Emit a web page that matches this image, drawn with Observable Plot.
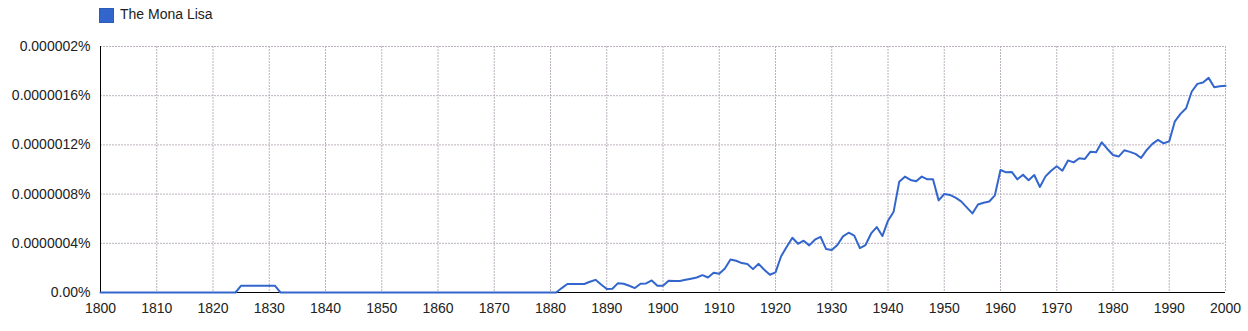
<!DOCTYPE html>
<html>
<head>
<meta charset="utf-8">
<script src="https://cdn.jsdelivr.net/npm/d3@7"></script>
<script src="https://cdn.jsdelivr.net/npm/@observablehq/plot@0.6"></script>
<style>
  html, body { margin: 0; padding: 0; background: #fff; }
  body { width: 1248px; height: 331px; overflow: hidden; font-family: "Liberation Sans", Arial, sans-serif; }
  #legend { position: relative; height: 30px; }
  #legend .swatch { position: absolute; left: 99px; top: 8px; width: 13px; height: 13px; background: #3366cc; border: 1px solid #2d5bb8; }
  #legend .label { position: absolute; left: 120px; top: 6px; font-size: 14px; line-height: 17px; color: #222; }
  #chart svg { display: block; }
</style>
</head>
<body>
<div id="legend"><span class="swatch"></span><span class="label">The Mona Lisa</span></div>
<div id="chart"></div>
<script>
// Series name
const seriesName = "The Mona Lisa";

// Yearly frequency, in units of 0.0000001 %, 1800–2000
const values = [
  // 1800s
  0, 0, 0, 0, 0, 0, 0, 0, 0, 0,
  // 1810s
  0, 0, 0, 0, 0, 0, 0, 0, 0, 0,
  // 1820s
  0, 0, 0, 0, 0, 0.55, 0.55, 0.55, 0.55, 0.55,
  // 1830s
  0.55, 0.55, 0, 0, 0, 0, 0, 0, 0, 0,
  // 1840s
  0, 0, 0, 0, 0, 0, 0, 0, 0, 0,
  // 1850s
  0, 0, 0, 0, 0, 0, 0, 0, 0, 0,
  // 1860s
  0, 0, 0, 0, 0, 0, 0, 0, 0, 0,
  // 1870s
  0, 0, 0, 0, 0, 0, 0, 0, 0, 0,
  // 1880s
  0, 0, 0.36, 0.69, 0.69, 0.69, 0.69, 0.87, 1.03, 0.65,
  // 1890s
  0.29, 0.3, 0.76, 0.71, 0.55, 0.36, 0.71, 0.74, 0.98, 0.55,
  // 1900s
  0.54, 0.95, 0.93, 0.93, 1.03, 1.12, 1.22, 1.41, 1.22, 1.6,
  // 1910s
  1.52, 1.95, 2.69, 2.58, 2.39, 2.31, 1.9, 2.33, 1.85, 1.44,
  // 1920s
  1.64, 2.95, 3.72, 4.45, 3.96, 4.21, 3.83, 4.29, 4.53, 3.53,
  // 1930s
  3.45, 3.86, 4.56, 4.86, 4.62, 3.61, 3.86, 4.8, 5.32, 4.59,
  // 1940s
  5.84, 6.57, 9.01, 9.42, 9.15, 9.04, 9.42, 9.2, 9.2, 7.49,
  // 1950s
  8.01, 7.93, 7.71, 7.41, 6.92, 6.43, 7.16, 7.3, 7.4, 7.9,
  // 1960s
  9.96, 9.77, 9.8, 9.2, 9.58, 9.13, 9.55, 8.58, 9.44, 9.9,
  // 1970s
  10.26, 9.9, 10.74, 10.58, 10.91, 10.86, 11.45, 11.4, 12.21, 11.67,
  // 1980s
  11.18, 11.05, 11.56, 11.43, 11.27, 10.94, 11.59, 12.08, 12.41, 12.13,
  // 1990s
  12.29, 13.92, 14.52, 14.98, 16.34, 16.96, 17.07, 17.45, 16.69, 16.77,
  // 2000
  16.8
];

const firstYear = 1800;
const years = values.map((_, i) => firstYear + i);

// Axis ticks and labels
const xTicks = [1800, 1810, 1820, 1830, 1840, 1850, 1860, 1870, 1880, 1890, 1900,
                1910, 1920, 1930, 1940, 1950, 1960, 1970, 1980, 1990, 2000];
const yTicks = [0, 4, 8, 12, 16, 20];
const yTickLabels = ["0.00%", "0.0000004%", "0.0000008%", "0.0000012%", "0.0000016%", "0.000002%"];

const data = years.map((year, i) => ({year, value: values[i], series: seriesName}));

// Dotted grey grid
const gridStyle = {stroke: "#bcb2be", strokeWidth: 1, strokeDasharray: "2,1"};

const chart = Plot.plot({
  width: 1248,
  height: 301,
  marginTop: 16,
  marginBottom: 39,
  marginLeft: 100,
  marginRight: 23,
  style: {fontFamily: "'Liberation Sans', Arial, sans-serif", fontSize: "14px", color: "#222", background: "#fff"},
  x: {domain: [1800, 2000]},
  y: {domain: [0, 20]},
  marks: [
    Plot.ruleX(xTicks.filter(d => d !== 1800), gridStyle),
    Plot.ruleY(yTicks.filter(d => d !== 0), gridStyle),
    Plot.axisX({ticks: xTicks, tickFormat: d => String(d), tickSize: 0, tickPadding: 11, fontSize: 14, label: null}),
    Plot.axisY({ticks: yTicks, tickFormat: (d, i) => yTickLabels[i], tickSize: 0, tickPadding: 10, fontSize: 14, label: null}),
    Plot.ruleX([1800], {stroke: "#000", strokeWidth: 1}),
    Plot.ruleY([0], {stroke: "#000", strokeWidth: 1}),
    Plot.lineY(data, {x: "year", y: "value", stroke: "#3366cc", strokeWidth: 2, curve: "linear"})
  ]
});

document.getElementById("chart").appendChild(chart);
</script>
</body>
</html>
